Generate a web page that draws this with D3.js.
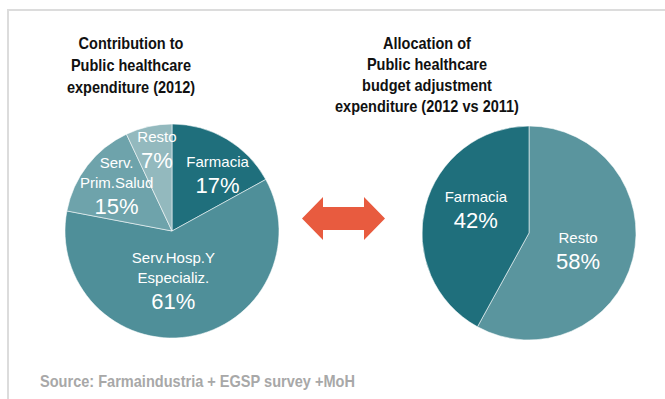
<!DOCTYPE html>
<html>
<head>
<meta charset="utf-8">
<script src="https://cdn.jsdelivr.net/npm/d3@7"></script>
<style>
  html, body { margin: 0; padding: 0; background: #fff; }
  svg { display: block; font-family: "Liberation Sans", Arial, Helvetica, sans-serif; }
</style>
</head>
<body>
<div id="container"></div>
<script>
/* DATA */
const leftTitle = ["Contribution to", "Public healthcare", "expenditure (2012)"];
const rightTitle = ["Allocation of", "Public healthcare", "budget adjustment", "expenditure (2012 vs 2011)"];
const sourceText = "Source: Farmaindustria + EGSP survey +MoH";

// contribution 2012, clockwise from 12 o'clock
const leftNames = [["Farmacia"], ["Serv.Hosp.Y", "Especializ."], ["Serv.", "Prim.Salud"], ["Resto"]];
const leftValues = [17, 61, 15, 7];

// budget adjustment 2012 vs 2011, clockwise from 12 o'clock
const rightNames = [["Resto"], ["Farmacia"]];
const rightValues = [58, 42];

/* CONSTANTS */
const width = 665,
  height = 399,
  radius = 107,
  titleScale = 0.88;

const leftColors = ["#1f6f7c", "#4f8f99", "#6ea3ab", "#93b9be"];
const rightColors = ["#5a959e", "#1f6f7c"];

// label nudges from the slice centroid (layout only)
const leftNudge = [[15, -12], [-8, -27], [-8, -26], [-2, -30]];
const rightNudge = [[-9, -5], [5, -16]];

const svg = d3.select("#container")
  .append("svg")
  .attr("width", width)
  .attr("height", height);

// frame lines
svg.append("rect").attr("x", 7).attr("y", 9).attr("width", width - 7).attr("height", 2).attr("fill", "#dcdcdc");
svg.append("rect").attr("x", 7).attr("y", 9).attr("width", 2).attr("height", height - 9).attr("fill", "#dcdcdc");

function title(lines, cx, y0, step) {
  svg.append("g")
    .selectAll("text")
    .data(lines)
    .join("text")
    .attr("transform", (d, i) => `translate(${cx},${y0 + i * step}) scale(${titleScale},1)`)
    .attr("text-anchor", "middle")
    .attr("font-weight", "bold")
    .attr("font-size", 16.5)
    .attr("fill", "#111")
    .text(d => d);
}

title(leftTitle, 131, 48.5, 22);
title(rightTitle, 427, 48.5, 21.3);

const pie = d3.pie().sort(null).value(d => d);
const arc = d3.arc().innerRadius(0).outerRadius(radius);
const labelArc = d3.arc().innerRadius(60).outerRadius(60);

function drawPie(values, names, colors, nudge, cx, cy) {
  const g = svg.append("g").attr("transform", `translate(${cx},${cy})`);
  const arcs = pie(values);

  g.selectAll("path")
    .data(arcs)
    .join("path")
    .attr("d", arc)
    .attr("fill", (d, i) => colors[i])
    .attr("stroke", "rgba(255,255,255,0.55)")
    .attr("stroke-width", 1);

  const labels = g.selectAll("g.label")
    .data(arcs)
    .join("g")
    .attr("class", "label")
    .attr("transform", (d, i) => {
      const [x, y] = labelArc.centroid(d);
      return `translate(${x + nudge[i][0]},${y + nudge[i][1]})`;
    })
    .attr("fill", "#fff")
    .attr("text-anchor", "middle");

  labels.each(function(d, i) {
    const el = d3.select(this);
    names[i].forEach((line, j) => {
      el.append("text")
        .attr("y", j * 20)
        .attr("font-size", 15)
        .text(line);
    });
    el.append("text")
      .attr("y", (names[i].length - 1) * 20 + 26)
      .attr("font-size", 22)
      .text(d.data + "%");
  });
}

drawPie(leftValues, leftNames, leftColors, leftNudge, 172, 231);
drawPie(rightValues, rightNames, rightColors, rightNudge, 529, 233);

// double arrow between the two pies
const ax0 = 302, ax1 = 385, ay = 218.5, head = 21, halfH = 21.5, halfS = 11.5;
svg.append("path")
  .attr("d", d3.line()([
    [ax0, ay], [ax0 + head, ay - halfH], [ax0 + head, ay - halfS],
    [ax1 - head, ay - halfS], [ax1 - head, ay - halfH], [ax1, ay],
    [ax1 - head, ay + halfH], [ax1 - head, ay + halfS],
    [ax0 + head, ay + halfS], [ax0 + head, ay + halfH]
  ]) + "Z")
  .attr("fill", "#e85b3f");

// source
svg.append("text")
  .attr("x", 40)
  .attr("y", 386.5)
  .attr("font-size", 17)
  .attr("font-weight", "bold")
  .attr("fill", "#a8a8a8")
  .attr("textLength", 315)
  .attr("lengthAdjust", "spacingAndGlyphs")
  .text(sourceText);
</script>
</body>
</html>
